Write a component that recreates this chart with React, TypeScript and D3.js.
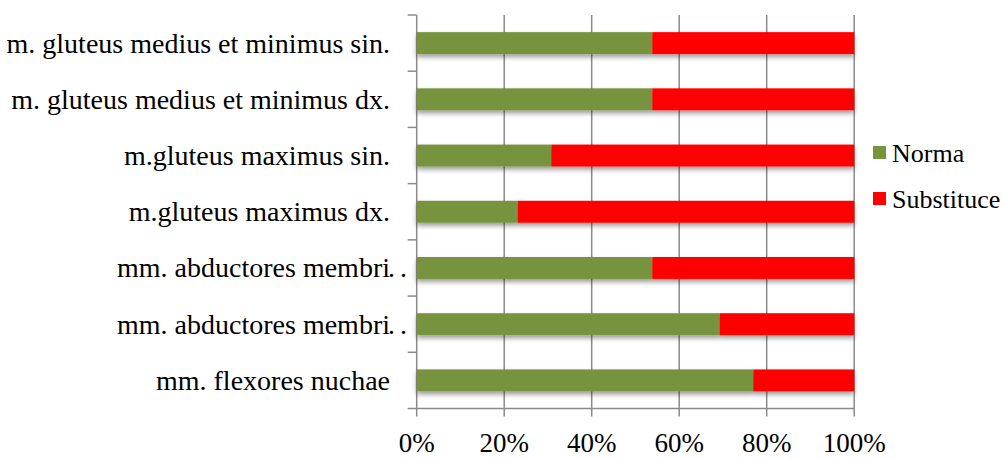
import React from "react";
import * as d3 from "d3";

// Muscle groups, listed top to bottom
const categories = [
  "m. gluteus medius et minimus sin.",
  "m. gluteus medius et minimus dx.",
  "m.gluteus maximus sin.",
  "m.gluteus maximus dx.",
  "mm. abductores membri",
  "mm. abductores membri",
  "mm. flexores nuchae",
];
// Labels cut short by the axis area get a trailing ".."
const truncated = [false, false, false, false, true, true, false];

// Counts per group
const norma = [7, 7, 4, 3, 7, 9, 10];
const substituce = [6, 6, 9, 10, 6, 4, 3];

const seriesNames = ["Norma", "Substituce"];
const seriesColors = ["#77933C", "#FF0000"];
const tickValues = [0, 0.2, 0.4, 0.6, 0.8, 1];

const W = 1003;
const H = 459;
const plot = { left: 416.7, right: 854.2, top: 15, bottom: 408.5 };
const FONT = "'Liberation Serif', 'Times New Roman', serif";
const GRID = "#8a8a8a";

export default function App() {
  const rows = categories.map((c, i) => {
    const total = norma[i] + substituce[i];
    return { key: String(i), label: c, Norma: norma[i] / total, Substituce: substituce[i] / total };
  });

  const x = d3.scaleLinear().domain([0, 1]).range([plot.left, plot.right]);
  const y = d3
    .scaleBand<string>()
    .domain(rows.map((r) => r.key))
    .range([plot.top, plot.bottom])
    .paddingInner(0.61)
    .paddingOuter(0.305);
  const band = d3
    .scaleBand<string>()
    .domain(rows.map((r) => r.key))
    .range([plot.top, plot.bottom]);

  const stacked = d3.stack<any>().keys(seriesNames)(rows);
  const fmt = d3.format(".0%");

  const boundaries = d3.range(categories.length + 1).map((i) => plot.top + i * band.step());

  return (
    <svg
      width={W}
      height={H}
      style={{ position: "absolute", left: 0, top: 0, display: "block", background: "#fff" }}
      fontFamily={FONT}
    >
      <defs>
        <filter id="barShadow" x="-5%" y="-40%" width="110%" height="200%">
          <feDropShadow dx="0" dy="3" stdDeviation="2.5" floodColor="#000" floodOpacity="0.4" />
        </filter>
      </defs>

      {/* vertical gridlines with tick extensions below the axis */}
      {tickValues.map((t) => (
        <line
          key={"g" + t}
          x1={x(t)}
          x2={x(t)}
          y1={plot.top}
          y2={plot.bottom + 8}
          stroke={GRID}
          strokeWidth={1.5}
        />
      ))}
      {/* category axis ticks */}
      {boundaries.map((b, i) => (
        <line key={"t" + i} x1={plot.left - 9} x2={plot.left} y1={b} y2={b} stroke={GRID} strokeWidth={1.5} />
      ))}
      {/* bottom axis line */}
      <line x1={plot.left} x2={plot.right} y1={plot.bottom} y2={plot.bottom} stroke={GRID} strokeWidth={1.5} />

      {/* stacked bars */}
      <g filter="url(#barShadow)">
        {stacked.map((s, si) =>
          s.map((d, i) => (
            <rect
              key={si + "-" + i}
              x={x(d[0])}
              y={y(rows[i].key)!}
              width={x(d[1]) - x(d[0])}
              height={y.bandwidth()}
              fill={seriesColors[si]}
            />
          ))
        )}
      </g>

      {/* category labels */}
      {rows.map((r, i) => {
        const cy = band(r.key)! + band.bandwidth() / 2 + 9.5;
        return (
          <g key={"l" + i}>
            <text x={390} y={cy} textAnchor="end" fontSize={28} fill="#000">
              {r.label}
            </text>
            {truncated[i] && (
              <text x={388} y={cy} fontSize={28} letterSpacing={5} fill="#000">
                ..
              </text>
            )}
          </g>
        );
      })}

      {/* value axis labels */}
      {tickValues.map((t) => (
        <text key={"x" + t} x={x(t)} y={452} textAnchor="middle" fontSize={27} fill="#000">
          {fmt(t)}
        </text>
      ))}

      {/* legend */}
      {seriesNames.map((n, i) => (
        <g key={"lg" + n}>
          <rect x={873} y={146 + i * 46} width={13} height={13} fill={seriesColors[i]} />
          <text x={892} y={162 + i * 46} fontSize={26} fill="#000">
            {n}
          </text>
        </g>
      ))}
    </svg>
  );
}
